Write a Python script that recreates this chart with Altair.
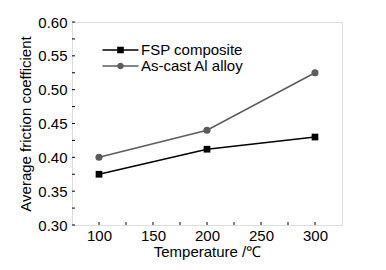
import altair as alt
import pandas as pd

temperature = [100, 200, 300]
fsp_composite = [0.375, 0.412, 0.430]
as_cast_alloy = [0.400, 0.440, 0.525]
series_names = ["FSP composite", "As-cast Al alloy"]
series_colors = ["#000000", "#5c5c5c"]
x_major = [100, 150, 200, 250, 300]
x_minor = [125, 175, 225, 275]
y_major = [0.30, 0.35, 0.40, 0.45, 0.50, 0.55, 0.60]
y_minor = [0.325, 0.375, 0.425, 0.475, 0.525, 0.575]

W, H = 270, 203
FONT = "Liberation Sans"

df = pd.DataFrame({
    "T": temperature * 2,
    "mu": fsp_composite + as_cast_alloy,
    "series": [series_names[0]] * 3 + [series_names[1]] * 3,
})

xscale = alt.Scale(domain=[75, 325], nice=False, zero=False)
yscale = alt.Scale(domain=[0.30, 0.60], nice=False, zero=False)
cscale = alt.Scale(domain=series_names, range=series_colors)

xaxis = alt.Axis(values=x_major, title="Temperature /℃", ticks=False, tickSize=0,
                 domain=False, grid=False, labelPadding=3, labelFontSize=15,
                 labelOverlap=False,
                 titleFontSize=15, titleFontWeight="normal", titlePadding=1,
                 labelFont=FONT, titleFont=FONT, labelColor="#000", titleColor="#000")
yaxis = alt.Axis(values=y_major, format=".2f", title="Average friction coefficient",
                 ticks=False, tickSize=0, domain=False, grid=False, labelPadding=5,
                 labelOverlap=False,
                 labelFontSize=15, titleFontSize=15, titleFontWeight="normal",
                 titlePadding=4, labelFont=FONT, titleFont=FONT,
                 labelColor="#000", titleColor="#000")


def X(field):
    return alt.X(field, scale=xscale, axis=xaxis)


def Y(field):
    return alt.Y(field, scale=yscale, axis=yaxis)


base = alt.Chart(df)

lines = base.mark_line(strokeWidth=1.5).encode(
    x=X("T:Q"), y=Y("mu:Q"),
    color=alt.Color("series:N", scale=cscale, legend=None),
    detail="series:N",
)

pts_sq = base.transform_filter(alt.datum.series == series_names[0]).mark_point(
    shape="square", filled=True, size=45, opacity=1, color=series_colors[0]
).encode(x=X("T:Q"), y=Y("mu:Q"))

pts_ci = base.transform_filter(alt.datum.series == series_names[1]).mark_point(
    shape="circle", filled=True, size=50, opacity=1, color=series_colors[1]
).encode(x=X("T:Q"), y=Y("mu:Q"))

# legend symbols: a (filled, thin) line with the marker in its middle
line_part = "M-3,-0.12L-0.5,-0.12L-0.5,0.12L-3,0.12ZM0.5,-0.12L3,-0.12L3,0.12L0.5,0.12Z"
legend_paths = [
    line_part + "M-0.55,-0.55L0.55,-0.55L0.55,0.55L-0.55,0.55Z",
    line_part + "M-0.6,-0.12L0.6,-0.12L0.6,0.12L-0.6,0.12Z"
    "M0.55,0A0.55,0.55,0,1,1,-0.55,0A0.55,0.55,0,1,1,0.55,0Z",
]


def legend_layer(i):
    col = series_colors[i]
    return base.transform_filter("false").mark_point(
        filled=True, opacity=1, color=col
    ).encode(
        x=X("T:Q"), y=Y("mu:Q"),
        shape=alt.Shape("series:N",
                        scale=alt.Scale(domain=[series_names[i]], range=[legend_paths[i]]),
                        legend=alt.Legend(title=None, orient="none", legendX=41,
                                          legendY=20.5 + 16 * i,
                                          symbolSize=144, symbolStrokeWidth=0,
                                          symbolFillColor=col,
                                          labelFontSize=15, labelFont=FONT,
                                          labelColor="#000", labelOffset=13,
                                          symbolOffset=0, symbolOpacity=1, padding=0)),
    )


tick_x = pd.DataFrame({"v": x_major + x_minor})
tick_y = pd.DataFrame({"v": y_major + y_minor})

xt = alt.Chart(tick_x).mark_rule(color="#000", strokeWidth=1).encode(
    x=X("v:Q"), y=alt.value(H), y2=alt.value(H - 3)
)
yt = alt.Chart(tick_y).mark_rule(color="#000", strokeWidth=1).encode(
    y=Y("v:Q"), x=alt.value(0), x2=alt.value(3)
)

chart = alt.layer(lines, pts_sq, pts_ci, legend_layer(0), legend_layer(1), xt, yt).resolve_scale(
    shape="independent"
).properties(
    width=W, height=H,
    autosize=alt.AutoSizeParams(type="none"),
    padding={"left": 64, "top": 14, "right": 36, "bottom": 37},
).configure_view(stroke="#000", strokeWidth=1.5).configure(background="white")

chart.save("out.html", embed_options={"renderer": "svg", "actions": False})
